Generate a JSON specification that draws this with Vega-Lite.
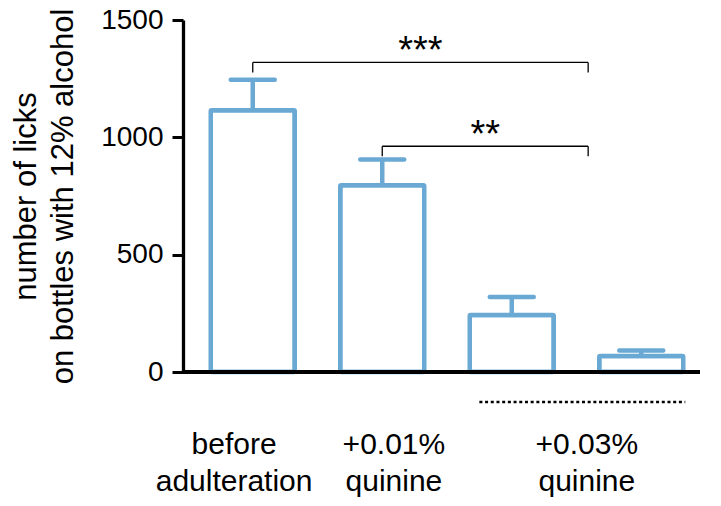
{
  "$schema": "https://vega.github.io/schema/vega-lite/v6.json",
  "width": 528,
  "height": 352,
  "autosize": {"type": "none"},
  "padding": {"left": 183, "top": 20, "right": 10, "bottom": 134},
  "background": "white",
  "config": {"view": {"stroke": null}, "font": "Liberation Sans"},
  "datasets": {
    "bars": [
      {"group": "before adulteration", "pos": 1, "mean": 1115, "err": 1245},
      {"group": "+0.01% quinine", "pos": 2, "mean": 796, "err": 906},
      {"group": "+0.03% quinine A", "pos": 3, "mean": 243, "err": 320},
      {"group": "+0.03% quinine B", "pos": 4, "mean": 68, "err": 92}
    ],
    "brackets": [
      {"from": 1.0, "to": 3.59, "level": 1319, "stars": "***"},
      {"from": 2.0, "to": 3.59, "level": 962, "stars": "**"}
    ],
    "labels": [
      {"label": "before\nadulteration", "pos": 0.856},
      {"label": "+0.01%\nquinine", "pos": 2.09},
      {"label": "+0.03%\nquinine", "pos": 3.58, "from": 2.75, "to": 4.34}
    ]
  },
  "layer": [
    {
      "data": {"name": "bars"},
      "mark": {"type": "bar", "fill": "white", "stroke": "#6aa9d3", "strokeWidth": 4.5, "width": 84, "cornerRadius": 1},
      "encoding": {
        "x": {"field": "pos", "type": "quantitative", "scale": {"domain": [0.5, 4.5], "nice": false, "zero": false}, "axis": null},
        "y": {"field": "mean", "type": "quantitative", "scale": {"domain": [0, 1500], "nice": false}, "axis": {
          "values": [0, 500, 1000, 1500], "format": "d", "grid": false,
          "domainColor": "black", "domainWidth": 3.3,
          "tickColor": "black", "tickWidth": 3, "tickSize": 11,
          "labelFontSize": 28, "labelColor": "black", "labelPadding": 9, "labelFont": "Liberation Sans",
          "title": ["number of licks", "on bottles with 12% alcohol"],
          "titleFont": "Liberation Sans", "titleFontSize": 31, "titleFontWeight": "normal", "titleColor": "black",
          "titleLineHeight": 37, "titlePadding": 21
        }}
      }
    },
    {
      "data": {"name": "bars"},
      "mark": {"type": "rule", "color": "#6aa9d3", "strokeWidth": 4.5, "strokeCap": "butt"},
      "encoding": {
        "x": {"field": "pos", "type": "quantitative", "axis": null},
        "y": {"field": "mean", "type": "quantitative"},
        "y2": {"field": "err"}
      }
    },
    {
      "data": {"name": "bars"},
      "mark": {"type": "rule", "color": "#6aa9d3", "strokeWidth": 4.5, "strokeCap": "round", "xOffset": -22, "x2Offset": 22},
      "encoding": {
        "x": {"field": "pos", "type": "quantitative", "axis": null},
        "x2": {"field": "pos"},
        "y": {"field": "err", "type": "quantitative"}
      }
    },
    {
      "data": {"name": "bars"},
      "mark": {"type": "rule", "color": "black", "strokeWidth": 3.3, "xOffset": -11, "x2Offset": 1},
      "encoding": {
        "y": {"datum": 0, "type": "quantitative"}
      }
    },
    {
      "data": {"name": "brackets"},
      "mark": {"type": "rule", "color": "black", "strokeWidth": 1.3},
      "encoding": {
        "x": {"field": "from", "type": "quantitative", "axis": null},
        "x2": {"field": "to"},
        "y": {"field": "level", "type": "quantitative"}
      }
    },
    {
      "data": {"name": "brackets"},
      "mark": {"type": "rule", "color": "black", "strokeWidth": 1.3, "y2Offset": 10},
      "encoding": {
        "x": {"field": "from", "type": "quantitative", "axis": null},
        "y": {"field": "level", "type": "quantitative"},
        "y2": {"field": "level"}
      }
    },
    {
      "data": {"name": "brackets"},
      "mark": {"type": "rule", "color": "black", "strokeWidth": 1.3, "y2Offset": 10},
      "encoding": {
        "x": {"field": "to", "type": "quantitative", "axis": null},
        "y": {"field": "level", "type": "quantitative"},
        "y2": {"field": "level"}
      }
    },
    {
      "data": {"name": "brackets"},
      "transform": [{"calculate": "(datum.from + datum.to) / 2", "as": "mid"}],
      "mark": {"type": "text", "fontSize": 38, "font": "Liberation Sans", "color": "black", "align": "center", "baseline": "alphabetic", "dy": 1},
      "encoding": {
        "x": {"field": "mid", "type": "quantitative", "axis": null},
        "y": {"field": "level", "type": "quantitative"},
        "text": {"field": "stars"}
      }
    },
    {
      "data": {"name": "labels"},
      "transform": [{"filter": "isValid(datum.from)"}],
      "mark": {"type": "rule", "color": "black", "strokeWidth": 2.5, "strokeDash": [3, 2.7]},
      "encoding": {
        "x": {"field": "from", "type": "quantitative", "axis": null},
        "x2": {"field": "to"},
        "y": {"datum": -128, "type": "quantitative"}
      }
    },
    {
      "data": {"name": "labels"},
      "mark": {"type": "text", "fontSize": 30, "font": "Liberation Sans", "color": "black", "align": "center", "baseline": "alphabetic", "lineBreak": "\n", "lineHeight": 37},
      "encoding": {
        "x": {"field": "pos", "type": "quantitative", "axis": null},
        "y": {"datum": -349, "type": "quantitative"},
        "text": {"field": "label"}
      }
    }
  ]
}
